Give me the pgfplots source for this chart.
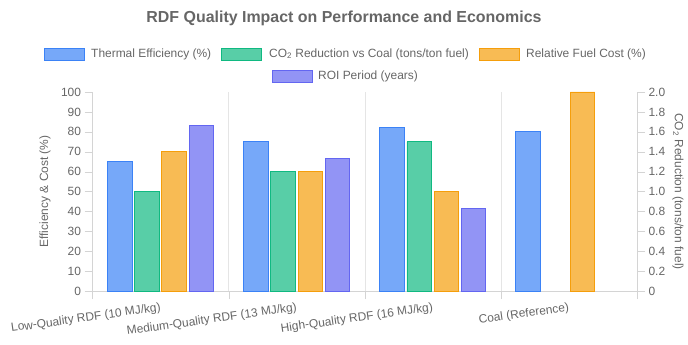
\documentclass[border=0pt]{standalone}
\usepackage{pgfplots}
\pgfplotsset{compat=1.18}
\usepackage{fontspec}
\setmainfont{Liberation Sans}
\definecolor{txt}{HTML}{666666}
\definecolor{gridc}{HTML}{E5E5E5}
\definecolor{axc}{HTML}{D4D4D4}
\definecolor{bluef}{RGB}{118,168,249}
\definecolor{blueb}{HTML}{3B82F6}
\definecolor{greenf}{RGB}{88,206,167}
\definecolor{greenb}{HTML}{10B981}
\definecolor{orangef}{RGB}{248,187,84}
\definecolor{orangeb}{HTML}{F59E0B}
\definecolor{purplef}{RGB}{146,148,245}
\definecolor{purpleb}{HTML}{6366F1}
\pgfplotsset{
  common/.style={
    at={(92.5bp,53bp)}, anchor=south west, scale only axis,
    width=544.5bp, height=199bp, xmin=-0.5, xmax=3.5,
    /pgf/number format/assume math mode=true,
    tick label style={font=\fontsize{12}{14}\selectfont, text=txt},
    label style={font=\fontsize{12}{14}\selectfont, text=txt},
    tick align=outside, major tick length=8bp, minor tick length=8bp,
  },
  bar/.style={ybar, bar width=24.5bp, line width=0.9bp},
}
\begin{document}
\begin{tikzpicture}[x=1bp,y=1bp]
\path[use as bounding box] (0,0) rectangle (688,344);
\node[font=\bfseries\fontsize{16}{19}\selectfont, text=txt] at (344,326) {RDF Quality Impact on Performance and Economics};
% legend
\def\lg#1#2#3#4#5#6{%
  \filldraw[fill=#3, draw=#4, line width=0.9bp] (#1,#2-6) rectangle (#1+40,#2+6);
  \node[anchor=west, inner sep=0pt, font=\fontsize{12}{14}\selectfont, text=txt] at (#5,#2) {#6};}
\lg{44}{290}{bluef}{blueb}{91}{Thermal Efficiency (\%)}
\lg{221}{290}{greenf}{greenb}{269}{CO\textsubscript{2} Reduction vs Coal (tons/ton fuel)}
\lg{479}{290}{orangef}{orangeb}{526}{Relative Fuel Cost (\%)}
\lg{272}{268}{purplef}{purpleb}{318}{ROI Period (years)}
% main axis (left scale)
\begin{axis}[common,
  ymin=0, ymax=100,
  axis x line*=bottom, axis y line*=left,
  axis line style={draw=axc, -},
  xtick={0,1,2,3},
  xticklabels={Low-Quality RDF (10 MJ/kg),Medium-Quality RDF (13 MJ/kg),High-Quality RDF (16 MJ/kg),Coal (Reference)},
  major x tick style={draw=none},
  minor xtick={-0.5,0.5,1.5,2.5,3.5},
  minor x tick style={draw=axc},
  xminorgrids, minor x grid style={draw=gridc},
  xticklabel style={rotate=8, anchor=north east, inner sep=1pt, yshift=-2bp},
  ytick={0,10,...,100},
  y tick style={draw=axc},
  ylabel={Efficiency \& Cost (\%)},
  y label style={at={(axis description cs:-0.0872,0.5)}, anchor=center},
]
\addplot[bar, bar shift=-40.8bp, fill=bluef, draw=blueb] coordinates {(0,65) (1,75) (2,82) (3,80)};
\addplot[bar, bar shift=13.6bp, fill=orangef, draw=orangeb] coordinates {(0,70) (1,60) (2,50) (3,100)};
\end{axis}
% right axis (CO2 reduction)
\begin{axis}[common,
  ymin=0, ymax=2,
  axis x line=none, axis y line*=right,
  axis line style={draw=axc, -},
  ytick={0,0.2,...,2.0},
  yticklabels={0,0.2,0.4,0.6,0.8,1.0,1.2,1.4,1.6,1.8,2.0},
  y tick style={draw=axc},
  ylabel={CO\textsubscript{2} Reduction (tons/ton fuel)},
  y label style={at={(axis description cs:1.0753,0.5)}, anchor=center, rotate=180},
]
\addplot[bar, bar shift=-13.6bp, fill=greenf, draw=greenb] coordinates {(0,1.0) (1,1.2) (2,1.5)};
\end{axis}
% hidden axis (ROI years)
\begin{axis}[common, ymin=0, ymax=6, hide axis]
\addplot[bar, bar shift=40.8bp, fill=purplef, draw=purpleb] coordinates {(0,5) (1,4) (2,2.5)};
\end{axis}
\end{tikzpicture}
\end{document}
